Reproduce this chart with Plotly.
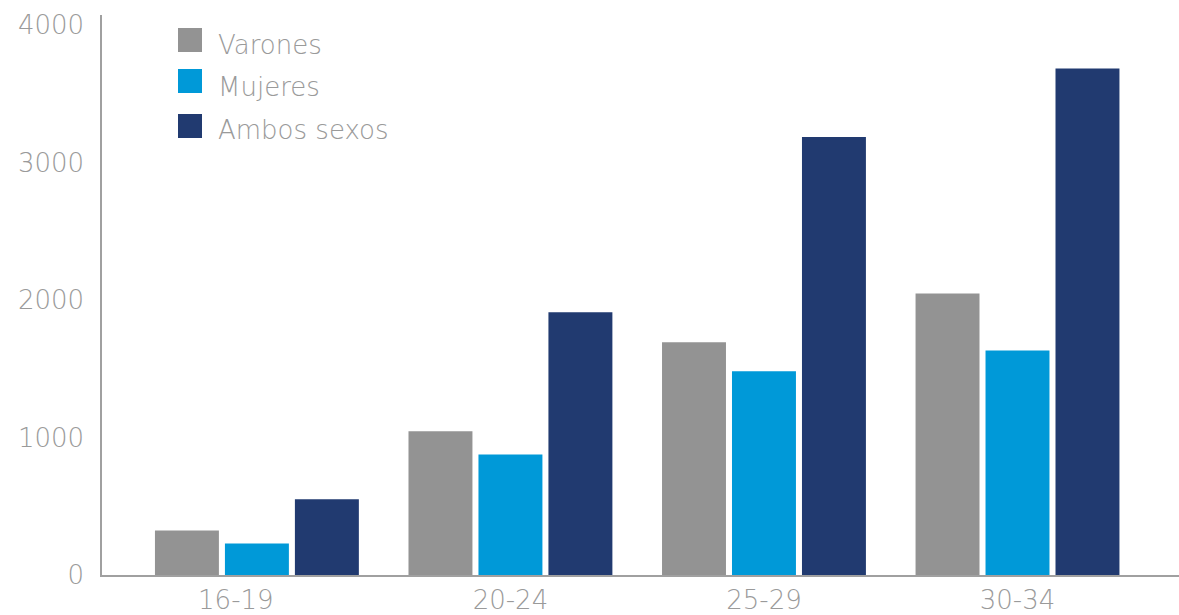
import plotly.graph_objects as go

# Age groups and counts per series
age_groups = ["16-19", "20-24", "25-29", "30-34"]
varones = [324, 1045, 1692, 2047]
mujeres = [229, 877, 1481, 1633]
ambos_sexos = [550, 1911, 3185, 3684]

series_names = ["Varones", "Mujeres", "Ambos sexos"]
series_values = [varones, mujeres, ambos_sexos]
series_colors = ["#939393", "#0099D8", "#213A70"]

y_ticks = [0, 1000, 2000, 3000, 4000]

text_gray = "#9a9a9a"
font_family = "DejaVu Sans"
font_weight = 200

# Bars sit on integer slots; the first group label is nudged a little left
slots = list(range(len(age_groups)))
label_pos = [float(s) for s in slots]
label_pos[0] -= 0.083

fig = go.Figure()
for name, vals, col in zip(series_names, series_values, series_colors):
    fig.add_trace(go.Bar(x=slots, y=vals, name=name,
                         marker=dict(color=col, line=dict(width=0)),
                         showlegend=False))

W, H = 1179, 615
ml, mr, mt, mb = 102, 0, 15, 40
pw, ph = W - ml - mr, H - mt - mb

# Hand-drawn legend: square swatches with labels
leg_x0, leg_size = 178, 24
leg_centers = [40, 81, 126]
label_centers = [45, 87, 130]
for name, col, cy, ty in zip(series_names, series_colors, leg_centers, label_centers):
    x0 = (leg_x0 - ml) / pw
    x1 = (leg_x0 + leg_size - ml) / pw
    y0 = (H - mb - (cy + leg_size / 2)) / ph
    y1 = (H - mb - (cy - leg_size / 2)) / ph
    fig.add_shape(type="rect", xref="paper", yref="paper",
                  x0=x0, x1=x1, y0=y0, y1=y1,
                  fillcolor=col, line=dict(width=0))
    fig.add_annotation(xref="paper", yref="paper",
                       x=(216 - ml) / pw, y=(H - mb - ty) / ph,
                       text=name, showarrow=False,
                       xanchor="left", yanchor="middle",
                       font=dict(size=26, color=text_gray, family=font_family,
                                 weight=font_weight))

tick_font = dict(size=26, color=text_gray, family=font_family, weight=font_weight)

fig.update_layout(
    width=W, height=H,
    margin=dict(l=ml, r=mr, t=mt, b=mb, autoexpand=False),
    paper_bgcolor="white", plot_bgcolor="white",
    barmode="group", bargap=0.172, bargroupgap=0.086,
    font=dict(family=font_family, color=text_gray, size=26, weight=font_weight),
    xaxis=dict(
        type="linear", range=[-0.611, 3.637], automargin=False,
        tickmode="array", tickvals=label_pos, ticktext=age_groups,
        showline=True, linecolor="#a0a0a0", linewidth=1.5,
        showgrid=False, zeroline=False, ticks="", ticklabelstandoff=1,
        tickfont=tick_font, fixedrange=True,
    ),
    yaxis=dict(
        range=[0, 4072.7], tickvals=y_ticks, automargin=False,
        ticktext=[str(v) for v in y_ticks],
        showline=True, linecolor="#a0a0a0", linewidth=1.5,
        showgrid=False, zeroline=False, ticks="", ticklabelstandoff=11,
        tickfont=tick_font, fixedrange=True,
    ),
)

fig.write_html("out.html")
